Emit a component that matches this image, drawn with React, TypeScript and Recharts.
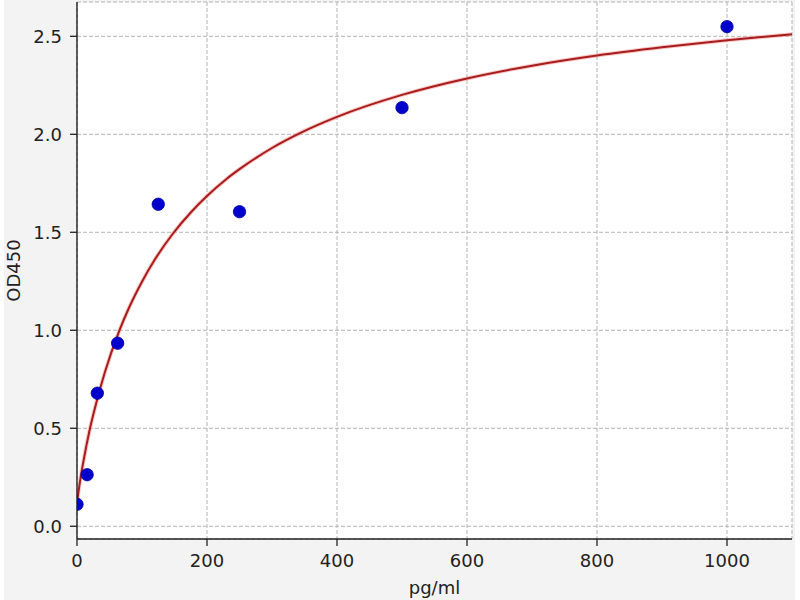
import React from 'react';
import {
  ComposedChart,
  Line,
  Scatter,
  XAxis,
  YAxis,
  CartesianGrid,
} from 'recharts';

// Standard points (concentration pg/ml, OD450)
const concentrations = [0, 15.6, 31.25, 62.5, 125, 250, 500, 1000];
const odValues = [0.112, 0.263, 0.679, 0.934, 1.643, 1.605, 2.136, 2.549];

// Fitted curve
const curveX = [0, 5, 10, 19, 30, 43, 65, 80, 100, 120, 148, 175, 200, 230, 250, 300, 343, 400, 500, 600, 700, 800, 900, 1000, 1100];
const curveY = [0.12, 0.237, 0.333, 0.485, 0.634, 0.787, 0.997, 1.115, 1.248, 1.362, 1.495, 1.601, 1.685, 1.772, 1.822, 1.93, 2.006, 2.089, 2.201, 2.285, 2.35, 2.402, 2.444, 2.48, 2.51];

const xTicks = [0, 200, 400, 600, 800, 1000];
const yTicks = [0, 0.5, 1.0, 1.5, 2.0, 2.5];
const xDomain = [0, 1100];
const yDomain = [-0.065, 2.675];

const points = concentrations.map((x, i) => ({ x, y: odValues[i] }));
const curve = curveX.map((x, i) => ({ x, y: curveY[i] }));

const FONT = '"DejaVu Sans", sans-serif';
const TEXT = '#222222';
const FS = 18;
const tickStyle = { fontFamily: FONT, fontSize: FS, fill: TEXT };

const Dot = (props: any) => {
  const { cx, cy } = props;
  if (cx == null || cy == null) return null;
  return <circle cx={cx} cy={cy} r={6.2} fill="#0000cc" stroke="#0000aa" strokeWidth={0.8} />;
};

const YLabel = (props: any) => {
  const vb = props.viewBox || {};
  const x = (vb.x || 0) + 13;
  const y = (vb.y || 0) + (vb.height || 0) / 2;
  return (
    <text
      x={x}
      y={y}
      transform={`rotate(-90, ${x}, ${y})`}
      textAnchor="middle"
      dominantBaseline="central"
      fontFamily={FONT}
      fontSize={FS}
      fill={TEXT}
    >
      OD450
    </text>
  );
};

const XLabel = (props: any) => {
  const vb = props.viewBox || {};
  const x = (vb.x || 0) + (vb.width || 0) / 2;
  const y = (vb.y || 0) + 55;
  return (
    <text x={x} y={y} textAnchor="middle" fontFamily={FONT} fontSize={FS} fill={TEXT}>
      pg/ml
    </text>
  );
};

export default function App() {
  return (
    <div style={{ position: 'absolute', left: 0, top: 0, width: 800, height: 600, background: '#ffffff' }}>
      <div style={{ position: 'absolute', left: 4, top: 0, width: 791, height: 600, background: '#f3f3f3' }} />
      <div style={{ position: 'absolute', left: 0, top: 0 }}>
        <ComposedChart width={800} height={600} margin={{ top: 2, right: 8, left: 0, bottom: 0 }}>
          <CartesianGrid
            stroke="#b3b3b3"
            strokeDasharray="4 2"
            strokeWidth={1}
            fill="#ffffff"
            fillOpacity={1}
          />
          <XAxis
            dataKey="x"
            type="number"
            domain={xDomain}
            ticks={xTicks}
            allowDataOverflow
            height={61}
            tickSize={7}
            tickMargin={8}
            tick={tickStyle}
            axisLine={{ stroke: '#222', strokeWidth: 1.4 }}
            tickLine={{ stroke: '#222', strokeWidth: 1.3 }}
            label={{ content: XLabel }}
          />
          <XAxis
            xAxisId="top"
            orientation="top"
            type="number"
            domain={xDomain}
            height={0}
            tick={false}
            tickLine={false}
            axisLine={{ stroke: '#222', strokeWidth: 1.4 }}
          />
          <YAxis
            type="number"
            domain={yDomain}
            ticks={yTicks}
            allowDataOverflow
            width={77}
            tickSize={7}
            tickMargin={8}
            tick={tickStyle}
            tickFormatter={(v: number) => v.toFixed(1)}
            axisLine={{ stroke: '#222', strokeWidth: 1.4 }}
            tickLine={{ stroke: '#222', strokeWidth: 1.3 }}
            label={{ content: YLabel }}
          />
          <YAxis
            yAxisId="right"
            orientation="right"
            type="number"
            domain={yDomain}
            width={0}
            tick={false}
            tickLine={false}
            axisLine={{ stroke: '#222', strokeWidth: 1.4 }}
          />
          <Scatter data={points} dataKey="y" shape={Dot} isAnimationActive={false} />
          <Line
            data={curve}
            dataKey="y"
            type="monotone"
            stroke="#f4a0a0"
            strokeWidth={4}
            strokeOpacity={0.6}
            dot={false}
            activeDot={false}
            isAnimationActive={false}
          />
          <Line
            data={curve}
            dataKey="y"
            type="monotone"
            stroke="#a81c1c"
            strokeWidth={2}
            dot={false}
            activeDot={false}
            isAnimationActive={false}
          />
        </ComposedChart>
      </div>
    </div>
  );
}
